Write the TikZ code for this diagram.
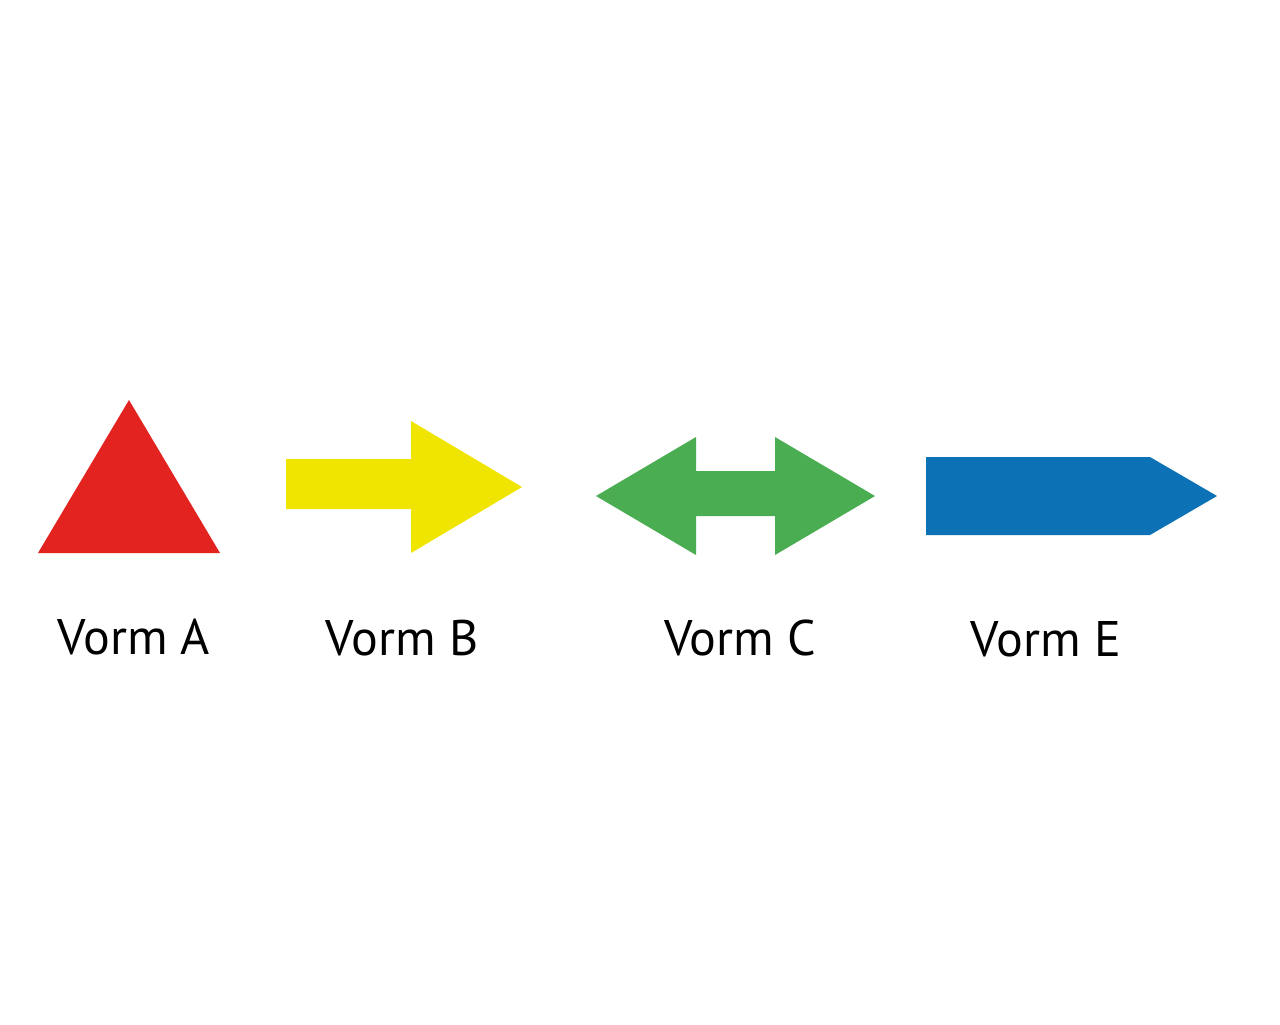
\documentclass[tikz,border=0pt]{standalone}
\usepackage{fontspec}
\setmainfont{PT Sans}
\definecolor{cred}{HTML}{E32320}
\definecolor{cyellow}{HTML}{F0E500}
\definecolor{cgreen}{HTML}{4AAD52}
\definecolor{cblue}{HTML}{0C71B5}
\begin{document}
\begin{tikzpicture}[x=0.5pt,y=-0.5pt,
  lbl/.style={inner sep=0pt,anchor=base,font=\fontsize{25}{30}\selectfont}]
\useasboundingbox (0,0) rectangle (1280,1024);
\fill[white] (0,0) rectangle (1280,1024);
% Vorm A
\fill[cred] (129,400) -- (220,553) -- (38,553) -- cycle;
% Vorm B
\fill[cyellow] (286,459) -- (411,459) -- (411,421) -- (522,487) -- (411,553) -- (411,509) -- (286,509) -- cycle;
% Vorm C
\fill[cgreen] (596,496) -- (696,437) -- (696,471) -- (775,471) -- (775,437) -- (875,496) -- (775,555) -- (775,516) -- (696,516) -- (696,555) -- cycle;
% Vorm E
\fill[cblue] (926,457) -- (1150,457) -- (1217,496) -- (1150,535) -- (926,535) -- cycle;
\node[lbl] (la) at (134,654) {Vorm A};
\node[lbl] (lb) at (402,655) {Vorm B};
\node[lbl] (lc) at (740,655) {Vorm C};
\node[lbl] (le) at (1046,656) {Vorm E};
\end{tikzpicture}
\end{document}
